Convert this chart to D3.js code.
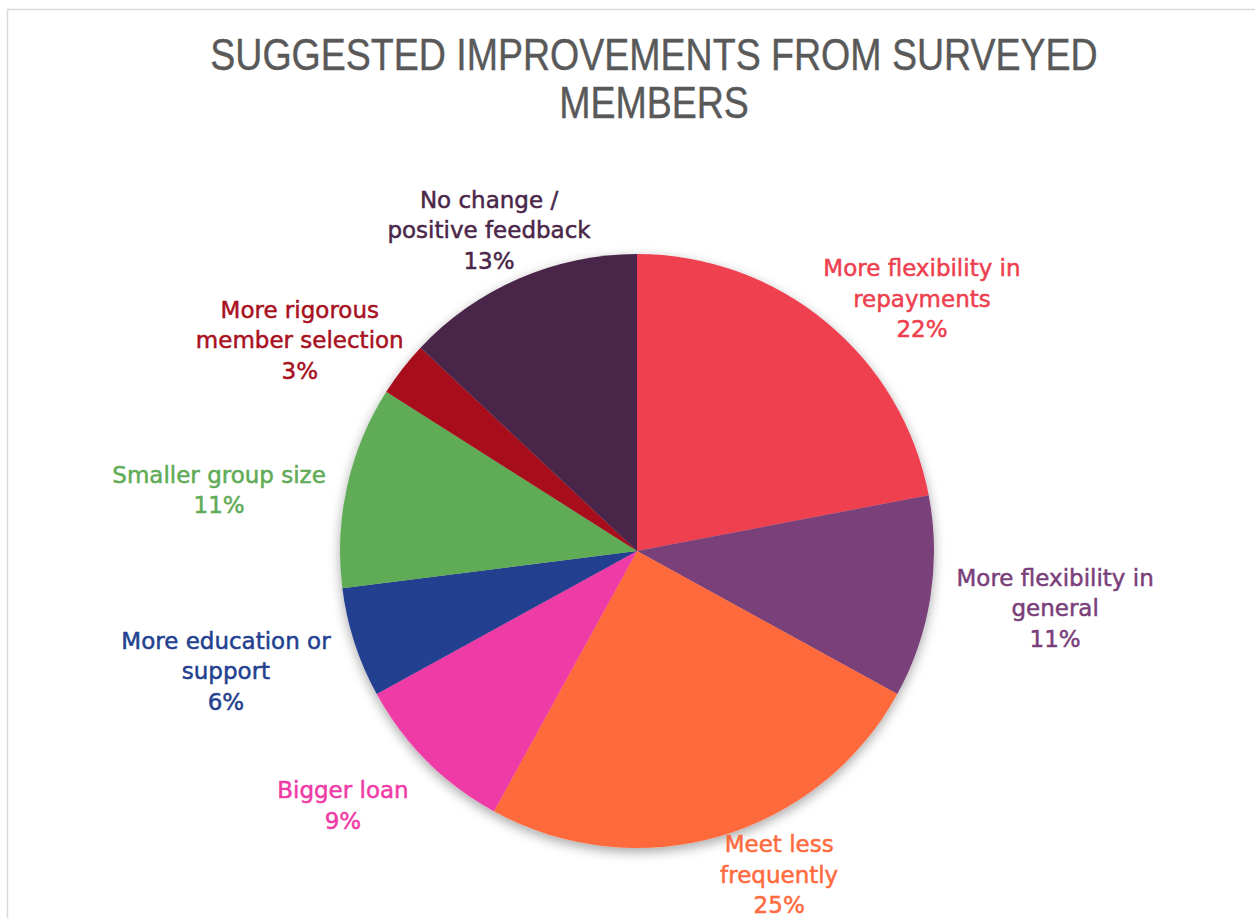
<!DOCTYPE html>
<html>
<head>
<meta charset="utf-8">
<script src="https://cdn.jsdelivr.net/npm/d3@7/dist/d3.min.js"></script>
<style>
  html, body { margin: 0; padding: 0; background: #fff; }
  svg { display: block; }
</style>
</head>
<body>
<svg id="chart" width="1255" height="918"></svg>
<script>
// Survey responses: suggested improvements (share of members, %)
const categories = [
  "More flexibility in repayments",
  "More flexibility in general",
  "Meet less frequently",
  "Bigger loan",
  "More education or support",
  "Smaller group size",
  "More rigorous member selection",
  "No change / positive feedback"
];
const values = [22, 11, 25, 9, 6, 11, 3, 13];
// Line breaks used for each data label
const labelLines = [
  ["More flexibility in", "repayments"],
  ["More flexibility in", "general"],
  ["Meet less", "frequently"],
  ["Bigger loan"],
  ["More education or", "support"],
  ["Smaller group size"],
  ["More rigorous", "member selection"],
  ["No change /", "positive feedback"]
];
const colors = ["#EE3F4F", "#7A3F7A", "#FF6A3E", "#EF3BA6", "#233F8F", "#60AB56", "#A8111E", "#4A2649"];
const titleLines = ["SUGGESTED IMPROVEMENTS FROM SURVEYED", "MEMBERS"];

// Label placement around the pie: [angle in degrees clockwise from 12 o'clock, distance as a multiple of radius]
const labelPolar = [
  [48.5, 1.281], [97.8, 1.421], [156.3, 1.191], [229.1, 1.310],
  [253.7, 1.442], [278.3, 1.422], [302.0, 1.339], [335.25, 1.190]
];

const svg = d3.select("#chart");
const W = 1255, H = 918;

// Chart-area frame
svg.append("rect")
  .attr("x", 7.5).attr("y", 9.5)
  .attr("width", W + 20).attr("height", H + 20)
  .attr("fill", "#fff").attr("stroke", "#d9d9d9").attr("stroke-width", 1.5);

// Soft shadow under the pie
const defs = svg.append("defs");
const f = defs.append("filter").attr("id", "pieShadow")
  .attr("x", "-20%").attr("y", "-20%").attr("width", "140%").attr("height", "140%");
f.append("feDropShadow").attr("dx", 0).attr("dy", 4).attr("stdDeviation", 6)
  .attr("flood-color", "#000").attr("flood-opacity", 0.35);

// Title, horizontally condensed to a narrow face
const titleCondense = 0.834;
svg.append("g").selectAll("text").data(titleLines).join("text")
  .attr("transform", (d, i) => `translate(654,${70 + i * 48}) scale(${titleCondense},1)`)
  .attr("text-anchor", "middle")
  .attr("font-family", "'Liberation Sans', Arial, sans-serif")
  .attr("font-size", 45)
  .attr("fill", "#595959")
  .attr("stroke", "#595959")
  .attr("stroke-width", 0.4)
  .text(d => d);

const cx = 637, cy = 551, r = 297;
const data = categories.map((c, i) => ({ category: c, value: values[i], color: colors[i], lines: labelLines[i], place: labelPolar[i] }));

const pie = d3.pie().sort(null).value(d => d.value);
const arc = d3.arc().innerRadius(0).outerRadius(r);
const arcs = pie(data);

const g = svg.append("g").attr("transform", `translate(${cx},${cy})`);
g.append("g").attr("filter", "url(#pieShadow)")
  .selectAll("path").data(arcs).join("path")
  .attr("d", arc)
  .attr("fill", d => d.data.color);

// Data labels: category name plus percentage
const lineH = 30.5;
g.append("g").selectAll("text").data(arcs).join("text")
  .attr("text-anchor", "middle")
  .attr("font-family", "'DejaVu Sans', sans-serif")
  .attr("font-size", 23)
  .attr("fill", d => d.data.color)
  .attr("stroke", d => d.data.color)
  .attr("stroke-width", 0.5)
  .each(function (d) {
    const a = d.data.place[0] * Math.PI / 180;
    const dist = d.data.place[1] * r;
    const x = Math.sin(a) * dist;
    const y = -Math.cos(a) * dist;
    const lines = d.data.lines.concat([d3.format(".0%")(d.value / d3.sum(values))]);
    const n = lines.length;
    const sel = d3.select(this);
    lines.forEach((t, i) => {
      sel.append("tspan")
        .attr("x", x)
        .attr("y", y + (i - (n - 1) / 2) * lineH + 8)
        .text(t);
    });
  });
</script>
</body>
</html>
